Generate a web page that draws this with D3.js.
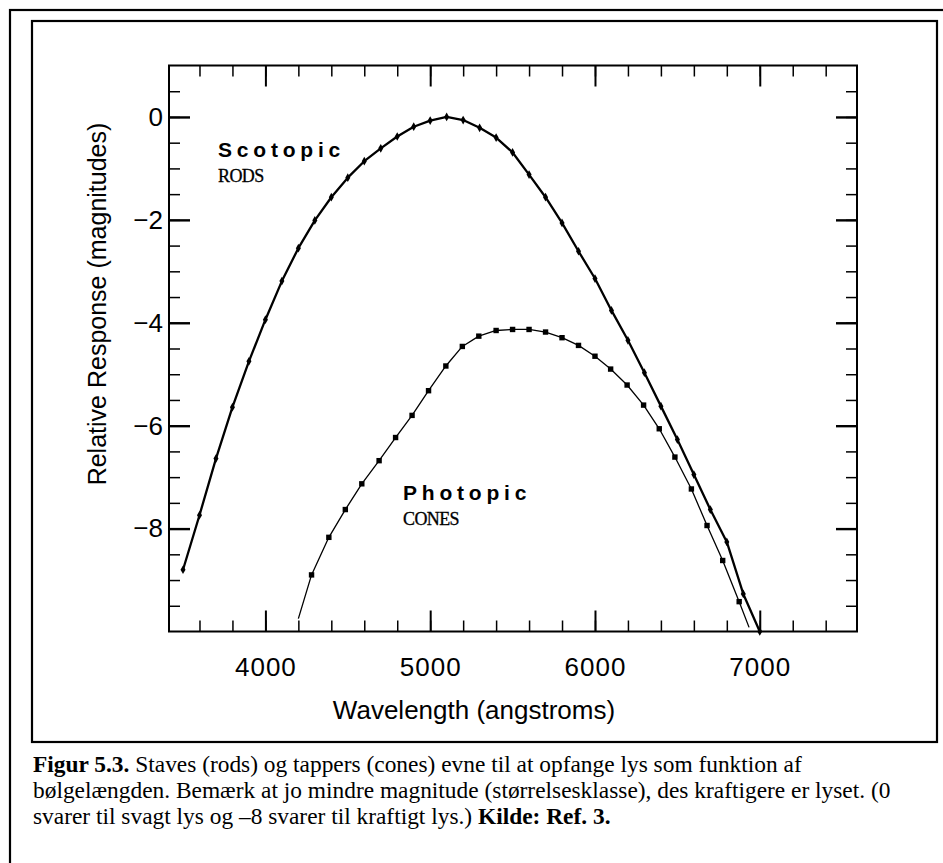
<!DOCTYPE html>
<html>
<head>
<meta charset="utf-8">
<script src="https://cdn.jsdelivr.net/npm/d3@7/dist/d3.min.js"></script>
<style>
  html, body { margin: 0; padding: 0; background: #fff; }
  svg { display: block; }
</style>
</head>
<body>
<div id="chart"></div>
<script>
// Scotopic (rods) response, one point every 100 angstrom
const rodWavelengths = [3500, 3600, 3700, 3800, 3900, 4000, 4100, 4200, 4300, 4400, 4500, 4600,
  4700, 4800, 4900, 5000, 5100, 5200, 5300, 5400, 5500, 5600, 5700, 5800, 5900, 6000,
  6100, 6200, 6300, 6400, 6500, 6600, 6700, 6800, 6900, 7000];
const rodResponse = [-8.80, -7.74, -6.64, -5.64, -4.75, -3.94, -3.19, -2.55, -2.01, -1.56, -1.18, -0.86,
  -0.61, -0.38, -0.19, -0.07, 0.00, -0.06, -0.21, -0.40, -0.69, -1.12, -1.56, -2.06, -2.61, -3.14,
  -3.76, -4.34, -4.97, -5.62, -6.27, -6.95, -7.63, -8.26, -9.27, -10.0];

// Photopic (cones) response, marked points
const coneWavelengths = [4280, 4385, 4485, 4585, 4690, 4790, 4890, 4990, 5095, 5195, 5295, 5400,
  5500, 5600, 5700, 5800, 5900, 6000, 6095, 6195, 6295, 6390, 6485, 6585, 6680, 6775, 6875];
const coneResponse = [-8.90, -8.17, -7.63, -7.13, -6.68, -6.23, -5.80, -5.32, -4.84, -4.46, -4.26, -4.15,
  -4.13, -4.13, -4.18, -4.29, -4.44, -4.65, -4.90, -5.21, -5.60, -6.06, -6.61, -7.23, -7.94, -8.62, -9.42];
// unmarked ends of the cone line
const coneStart = [4200, -9.75];
const coneEnd = [6935, -9.92];

const xMajorTicks = [4000, 5000, 6000, 7000];
const xMinorTicks = d3.range(3600, 7500, 200);
const yMajorTicks = [0, -2, -4, -6, -8];
const yMinorTicks = d3.range(-9.5, 1, 0.5);

const captionLines = [
  [["Figur 5.3.", true], [" Staves (rods) og tappers (cones) evne til at opfange lys som funktion af", false]],
  [["bølgelængden. Bemærk at jo mindre magnitude (størrelsesklasse), des kraftigere er lyset. (0", false]],
  [["svarer til svagt lys og \u20138 svarer til kraftigt lys.) ", false], ["Kilde: Ref. 3.", true]]
];

const width = 943, height = 863;
const plot = { left: 169, right: 857, top: 65.5, bottom: 631.5 };
const sans = "'Liberation Sans', Arial, Helvetica, sans-serif";
const serif = "'Liberation Serif', 'Times New Roman', serif";

const svg = d3.select("#chart").append("svg")
  .attr("width", width)
  .attr("height", height);

// outer page frame and inner figure frame
svg.append("rect")
  .attr("x", 10).attr("y", 10).attr("width", 1000).attr("height", 1000)
  .attr("fill", "none").attr("stroke", "#000").attr("stroke-width", 2.2);
svg.append("rect")
  .attr("x", 32).attr("y", 21).attr("width", 905).attr("height", 721)
  .attr("fill", "none").attr("stroke", "#000").attr("stroke-width", 2.2);

const x = d3.scaleLinear().domain([3415, 7590]).range([plot.left, plot.right]);
const y = d3.scaleLinear().domain([-10, 1]).range([plot.bottom, plot.top]);

function addAxis(axis, tx, ty, width) {
  const g = svg.append("g")
    .attr("transform", `translate(${tx},${ty})`)
    .call(axis);
  g.select(".domain").remove();
  g.selectAll(".tick line").attr("stroke-width", width);
  return g;
}

// minor ticks on all four sides
addAxis(d3.axisBottom(x).tickValues(xMinorTicks).tickSize(-11).tickFormat(""), 0, plot.bottom, 1.5);
addAxis(d3.axisTop(x).tickValues(xMinorTicks).tickSize(-11).tickFormat(""), 0, plot.top, 1.5);
addAxis(d3.axisLeft(y).tickValues(yMinorTicks).tickSize(-11).tickFormat(""), plot.left, 0, 1.5);
addAxis(d3.axisRight(y).tickValues(yMinorTicks).tickSize(-11).tickFormat(""), plot.right, 0, 1.5);

// major ticks
const xb = addAxis(d3.axisBottom(x).tickValues(xMajorTicks).tickSize(-21).tickPadding(26).tickFormat(d3.format("d")), 0, plot.bottom, 2);
addAxis(d3.axisTop(x).tickValues(xMajorTicks).tickSize(-21).tickFormat(""), 0, plot.top, 2);
const yl = addAxis(d3.axisLeft(y).tickValues(yMajorTicks).tickSize(-21).tickPadding(6).tickFormat(d3.format("d")), plot.left, 0, 2.4);
addAxis(d3.axisRight(y).tickValues(yMajorTicks).tickSize(-21).tickFormat(""), plot.right, 0, 2.4);

[xb, yl].forEach(g => g.selectAll(".tick text")
  .attr("font-family", sans).attr("font-size", 26).attr("fill", "#000"));
xb.selectAll(".tick text").attr("letter-spacing", 1);

// plot border
svg.append("rect")
  .attr("x", plot.left).attr("y", plot.top)
  .attr("width", plot.right - plot.left).attr("height", plot.bottom - plot.top)
  .attr("fill", "none").attr("stroke", "#000").attr("stroke-width", 2);

// axis titles
svg.append("text")
  .attr("x", 474).attr("y", 719)
  .attr("text-anchor", "middle")
  .attr("font-family", sans).attr("font-size", 26)
  .text("Wavelength (angstroms)");

svg.append("text")
  .attr("transform", "translate(106,304) rotate(-90)")
  .attr("text-anchor", "middle")
  .attr("font-family", sans).attr("font-size", 25)
  .text("Relative Response (magnitudes)");

// curves
const line = d3.line().x(d => x(d[0])).y(d => y(d[1]));
const rods = rodWavelengths.map((w, i) => [w, rodResponse[i]]);
const cones = coneWavelengths.map((w, i) => [w, coneResponse[i]]);

svg.append("path")
  .datum(rods)
  .attr("d", line)
  .attr("fill", "none").attr("stroke", "#000").attr("stroke-width", 2.3)
  .attr("stroke-linejoin", "round");

svg.append("path")
  .datum([coneStart, ...cones, coneEnd])
  .attr("d", line)
  .attr("fill", "none").attr("stroke", "#000").attr("stroke-width", 1.3)
  .attr("stroke-linejoin", "round");

svg.selectAll("path.rod-mark")
  .data(rods)
  .enter()
  .append("path")
  .attr("class", "rod-mark")
  .attr("d", d3.symbol(d3.symbolDiamond, 22))
  .attr("transform", d => `translate(${x(d[0])},${y(d[1])})`)
  .attr("fill", "#000");

svg.selectAll("rect.cone-mark")
  .data(cones)
  .enter()
  .append("rect")
  .attr("class", "cone-mark")
  .attr("x", d => x(d[0]) - 2.7)
  .attr("y", d => y(d[1]) - 2.7)
  .attr("width", 5.4).attr("height", 5.4)
  .attr("fill", "#000");

// curve labels
function curveLabel(tx, ty, title, sub) {
  svg.append("text")
    .attr("x", tx).attr("y", ty)
    .attr("font-family", sans).attr("font-size", 21).attr("font-weight", "bold")
    .attr("letter-spacing", 4.8)
    .text(title);
  svg.append("text")
    .attr("x", tx).attr("y", ty + 25)
    .attr("font-family", serif).attr("font-size", 18)
    .attr("letter-spacing", -0.6)
    .attr("stroke", "#000").attr("stroke-width", 0.3)
    .text(sub);
}
curveLabel(218, 156.5, "Scotopic", "RODS");
curveLabel(403, 499.5, "Photopic", "CONES");

// caption
captionLines.forEach((parts, i) => {
  const t = svg.append("text")
    .attr("x", 33).attr("y", 772 + i * 26)
    .attr("font-family", serif).attr("font-size", 23.4);
  parts.forEach(([s, bold]) => {
    t.append("tspan").attr("font-weight", bold ? "bold" : "normal").text(s);
  });
});
</script>
</body>
</html>
